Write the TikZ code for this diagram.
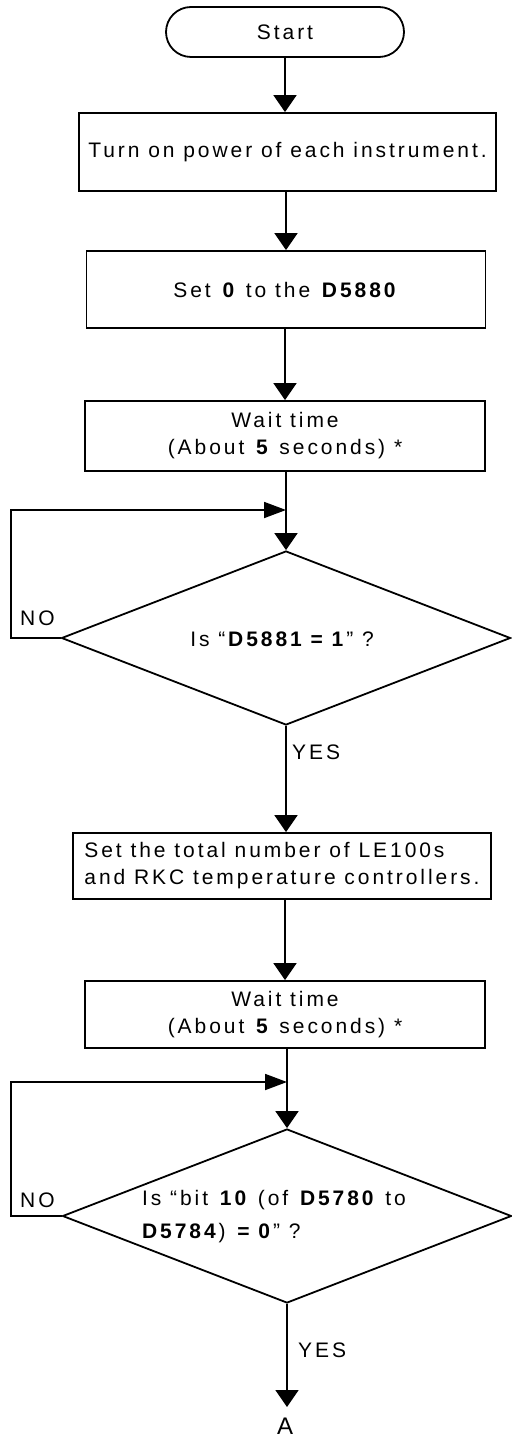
\documentclass[tikz,border=0pt]{standalone}
\usepackage{fontspec}
\setmainfont{Liberation Sans}[LetterSpace=14]
\usetikzlibrary{arrows.meta,shapes.geometric}
\begin{document}
\begin{tikzpicture}[x=1pt,y=-1pt,
  every node/.style={font=\fontsize{21}{27}\selectfont},
  box/.style={draw, line width=1.8pt, rectangle, inner sep=0pt, align=center},
  dec/.style={draw, line width=1.8pt, diamond, inner sep=0pt, aspect=2.575, minimum width=449pt, minimum height=174pt},
  flow/.style={line width=1.8pt, -{Triangle[length=17pt,width=23pt]}},
  back/.style={line width=1.8pt, -{Triangle[length=22pt,width=16pt]}},
  lbl/.style={inner sep=0pt, anchor=west}
]
\useasboundingbox (0,0) rectangle (511,1439);

\node[box, rounded corners=25pt, minimum width=238pt, minimum height=50pt] (start) at (285,32) {Start};
\node[box, minimum width=417pt, minimum height=78pt] (b1) at (287.5,152) {Turn on power of each instrument.};
\node[box, minimum width=399pt, minimum height=77pt] (b2) at (286,289.5) {Set \textbf{0} to the \textbf{D5880}};
\node[box, minimum width=400pt, minimum height=70pt] (b3) at (285,436) {Wait time\\(About \textbf{5} seconds) *};
\node[dec] (d1) at (286,638) {};
\node[inner sep=0pt] (d1t) at (282,639) {Is “\textbf{D5881 = 1}” ?};
\node[box, minimum width=418pt, minimum height=66pt, align=left] (b4) at (282,866) {Set the total number of LE100s\\and RKC temperature controllers.};
\node[box, minimum width=400pt, minimum height=67pt] (b5) at (285,1014.5) {Wait time\\(About \textbf{5} seconds) *};
\node[dec] (d2) at (287,1216) {};
\node[inner sep=0pt, align=left] (d2t) at (274,1217) {Is “bit \textbf{10} (of \textbf{D5780} to\\[6pt]\textbf{D5784}) \textbf{= 0}” ?};
\node[font=\fontsize{24}{28}\selectfont, anchor=base, inner sep=0pt] (A) at (285,1434) {A};

\node[lbl] (no1) at (20,618) {NO};
\node[lbl] (yes1) at (292,752) {YES};
\node[lbl] (no2) at (20,1200) {NO};
\node[lbl] (yes2) at (298,1350) {YES};

\coordinate (j1) at (286,510);
\coordinate (k1) at (11,510);
\coordinate (j2) at (287,1082);
\coordinate (k2) at (11,1082);
\coordinate (ain) at (287,1407);

\draw[flow] (start.south) -- (start.south |- b1.north);
\draw[flow] (b1.south -| b2.north) -- (b2.north);
\draw[flow] (b2.south -| b3.north) -- (b3.north);
\draw[flow] (b3.south -| d1.north) -- (d1.north);
\draw[back] (d1.west) -| (k1) -- (j1);
\draw[flow] (d1.south) -- (d1.south |- b4.north);
\draw[flow] (b5.north |- b4.south) -- (b5.north);
\draw[flow] (b5.south -| d2.north) -- (d2.north);
\draw[back] (d2.west) -| (k2) -- (j2);
\draw[flow] (d2.south) -- (ain);
\end{tikzpicture}
\end{document}
